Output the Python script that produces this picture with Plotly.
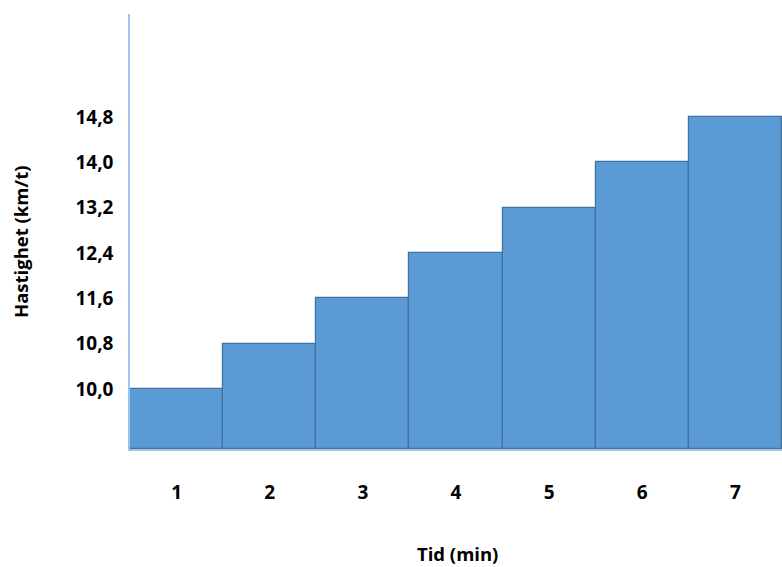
import plotly.graph_objects as go

# Speed measured each minute
minutes = ["1", "2", "3", "4", "5", "6", "7"]
speed = [10.0, 10.8, 11.6, 12.4, 13.2, 14.0, 14.8]
tick_vals = [10.0, 10.8, 11.6, 12.4, 13.2, 14.0, 14.8]
tick_text = ["10,0", "10,8", "11,6", "12,4", "13,2", "14,0", "14,8"]

# Bars start from the bottom of the visible speed range
Y_MIN, Y_MAX = 8.94, 16.62

BAR_FILL = "#5B9BD5"
BAR_EDGE = "#41719C"
AXIS_BLUE = "#9DC3E6"
FONT = "Open Sans"

fig = go.Figure(
    go.Bar(
        x=minutes,
        y=[v - Y_MIN for v in speed],
        base=Y_MIN,
        marker=dict(color=BAR_FILL, line=dict(color=BAR_EDGE, width=1.2)),
        hoverinfo="skip",
    )
)

fig.update_layout(
    width=782,
    height=567,
    margin=dict(l=130, r=0, t=14, b=118),
    paper_bgcolor="white",
    plot_bgcolor="white",
    bargap=0,
    showlegend=False,
    font=dict(family=FONT, color="black"),
)

fig.update_xaxes(
    type="category",
    range=[-0.5, 6.5],
    showgrid=False,
    zeroline=False,
    showline=True,
    linecolor=AXIS_BLUE,
    linewidth=1.5,
    ticks="",
    ticklabelstandoff=25,
    tickfont=dict(family=FONT, size=19, color="black", weight="bold"),
)

fig.update_yaxes(
    range=[Y_MIN, Y_MAX],
    showgrid=False,
    zeroline=False,
    showline=True,
    linecolor=AXIS_BLUE,
    linewidth=1.5,
    ticks="",
    tickmode="array",
    tickvals=tick_vals,
    ticktext=tick_text,
    ticklabelstandoff=11,
    tickfont=dict(family=FONT, size=19, color="black", weight="bold"),
)

# Axis titles
fig.add_annotation(
    text="<b>Tid (min)</b>",
    xref="paper", yref="paper",
    x=(457 - 130) / 652, y=-(553 - 449) / 435,
    showarrow=False,
    borderpad=0,
    xanchor="center", yanchor="middle",
    font=dict(family=FONT, size=18.5, color="black"),
)
fig.add_annotation(
    text="<b>Hastighet (km/t)</b>",
    xref="paper", yref="paper",
    x=-(130 - 21) / 652, y=(449 - 242) / 435,
    showarrow=False,
    borderpad=0,
    textangle=-90,
    xanchor="center", yanchor="middle",
    font=dict(family=FONT, size=18.5, color="black"),
)

fig.write_html("out.html")
